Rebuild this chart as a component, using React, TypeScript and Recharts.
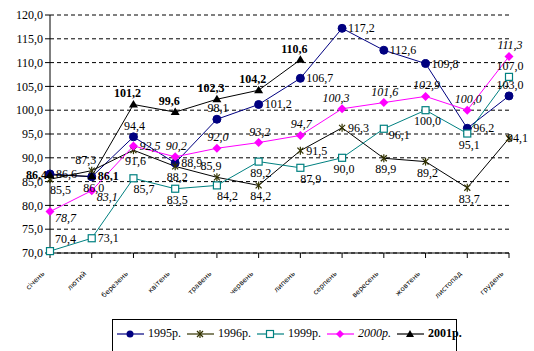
import { LineChart, Line, XAxis, YAxis, CartesianGrid, LabelList } from 'recharts';

const months = ['січень', 'лютий', 'березень', 'квітень', 'травень', 'червень', 'липень', 'серпень', 'вересень', 'жовтень', 'листопад', 'грудень'];
const y1995 = [86.6, 86.0, 94.4, 88.9, 98.1, 101.2, 106.7, 117.2, 112.6, 109.8, 96.2, 103.0];
const y1996 = [85.5, 87.3, 91.6, 88.2, 85.9, 84.2, 91.5, 96.3, 89.9, 89.2, 83.7, 94.1];
const y1999 = [70.4, 73.1, 85.7, 83.5, 84.2, 89.2, 87.9, 90.0, 96.1, 100.0, 95.1, 107.0];
const y2000 = [78.7, 83.1, 92.5, 90.2, 92.0, 93.2, 94.7, 100.3, 101.6, 102.9, 100.0, 111.3];
const y2001 = [86.4, 86.1, 101.2, 99.6, 102.3, 104.2, 110.6, null, null, null, null, null];
const yTicks = [70, 75, 80, 85, 90, 95, 100, 105, 110, 115, 120];

const data = months.map((m, i) => ({
  month: m,
  a: y1995[i],
  b: y1996[i],
  c: y1999[i],
  d: y2000[i],
  e: y2001[i],
}));

const FONT = '"Liberation Serif", "Times New Roman", serif';
const fmt = (v: number) => v.toFixed(1).replace('.', ',');

type Pos = 'r' | 'l' | 'a' | 'b' | 'bl' | 'rb' | 'al' | 'on';

function place(pos: Pos, x: number, y: number) {
  switch (pos) {
    case 'r': return { x: x + 6, y: y + 4, anchor: 'start' };
    case 'l': return { x: x - 3, y: y + 4, anchor: 'end' };
    case 'a': return { x: x + 1, y: y - 7, anchor: 'middle' };
    case 'al': return { x: x - 6, y: y - 7, anchor: 'middle' };
    case 'b': return { x: x + 2, y: y + 15, anchor: 'middle' };
    case 'bl': return { x: x, y: y + 15, anchor: 'start' };
    case 'rb': return { x: x + 5, y: y + 10, anchor: 'start' };
    case 'on': return { x: x - 2, y: y + 4, anchor: 'start' };
  }
}

const pos1995 = (i: number): Pos => (i === 1 ? 'b' : i === 2 || i === 4 || i === 11 ? 'a' : 'r');
const pos1996 = (i: number): Pos =>
  i === 1 || i === 4 ? 'al' : i === 6 || i === 7 ? 'r' : i === 11 ? 'on' : i === 0 ? 'bl' : 'b';
const pos1999 = (i: number): Pos =>
  i === 0 ? 'rb' : i === 1 ? 'r' : i === 8 ? 'rb' : i === 11 ? 'a' : i === 2 || i === 4 || i === 6 ? 'bl' : 'b';
const pos2000 = (i: number): Pos => (i === 0 || i === 1 ? 'rb' : i === 2 ? 'r' : i === 7 ? 'al' : 'a');
const pos2001 = (i: number): Pos => (i === 0 ? 'l' : i === 1 ? 'r' : 'al');

function makeLabel(posFn: (i: number) => Pos, style: { fontStyle?: string; fontWeight?: string }) {
  return (props: any) => {
    const { x, y, value, index } = props;
    if (value == null || x == null || y == null) return null;
    const p = place(posFn(index), Number(x), Number(y));
    if (index === 0 && posFn === pos1999) p.y = Number(y) - 8;
    return (
      <text
        x={p.x}
        y={p.y}
        textAnchor={p.anchor}
        fontFamily={FONT}
        fontSize={12}
        fontStyle={style.fontStyle}
        fontWeight={style.fontWeight}
        fill="#000"
      >
        {fmt(Number(value))}
      </text>
    );
  };
}

const circleDot = (props: any) => {
  const { cx, cy, index } = props;
  if (cx == null || cy == null) return <g key={index} />;
  return <circle key={index} cx={cx} cy={cy} r={4} fill="#000080" stroke="#000080" />;
};
const starDot = (props: any) => {
  const { cx, cy, index } = props;
  if (cx == null || cy == null) return <g key={index} />;
  const s = 3;
  return (
    <g key={index} stroke="#333300" strokeWidth={1.2}>
      <line x1={cx - s} y1={cy - s} x2={cx + s} y2={cy + s} />
      <line x1={cx - s} y1={cy + s} x2={cx + s} y2={cy - s} />
      <line x1={cx} y1={cy - s - 1} x2={cx} y2={cy + s + 1} />
    </g>
  );
};
const squareDot = (props: any) => {
  const { cx, cy, index } = props;
  if (cx == null || cy == null) return <g key={index} />;
  return <rect key={index} x={cx - 3.5} y={cy - 3.5} width={7} height={7} fill="#fff" stroke="#008080" strokeWidth={1.2} />;
};
const diamondDot = (props: any) => {
  const { cx, cy, index } = props;
  if (cx == null || cy == null) return <g key={index} />;
  return <path key={index} d={`M${cx},${cy - 4.5}L${cx + 4.5},${cy}L${cx},${cy + 4.5}L${cx - 4.5},${cy}Z`} fill="#FF00FF" />;
};
const triDot = (props: any) => {
  const { cx, cy, index } = props;
  if (cx == null || cy == null) return <g key={index} />;
  return <path key={index} d={`M${cx},${cy - 4.5}L${cx + 4.5},${cy + 3}L${cx - 4.5},${cy + 3}Z`} fill="#000" />;
};

const MonthTick = (props: any) => {
  const { x, y, payload } = props;
  return (
    <g transform={`translate(${x - 5},${y + 14})`}>
      <text textAnchor="end" transform="rotate(-45)" fontFamily='"DejaVu Sans", sans-serif' fontSize={7} fill="#000" stroke="none">
        {payload.value}
      </text>
    </g>
  );
};

const legendItems = [
  { name: '1995р.', color: '#000080', shape: 'circle', style: {} },
  { name: '1996р.', color: '#333300', shape: 'star', style: {} },
  { name: '1999р.', color: '#008080', shape: 'square', style: {} },
  { name: '2000р.', color: '#FF00FF', shape: 'diamond', style: { fontStyle: 'italic' } },
  { name: '2001р.', color: '#000000', shape: 'tri', style: { fontWeight: 'bold' } },
];

function LegendMarker({ shape, color }: { shape: string; color: string }) {
  const c = 13;
  const cy = 7;
  let m: any = null;
  if (shape === 'circle') m = <circle cx={c} cy={cy} r={3.5} fill={color} />;
  if (shape === 'star')
    m = (
      <g stroke={color} strokeWidth={1.2}>
        <line x1={c - 3} y1={cy - 3} x2={c + 3} y2={cy + 3} />
        <line x1={c - 3} y1={cy + 3} x2={c + 3} y2={cy - 3} />
        <line x1={c} y1={cy - 4} x2={c} y2={cy + 4} />
      </g>
    );
  if (shape === 'square') m = <rect x={c - 3.5} y={cy - 3.5} width={7} height={7} fill="#fff" stroke={color} strokeWidth={1.2} />;
  if (shape === 'diamond') m = <path d={`M${c},${cy - 4}L${c + 4},${cy}L${c},${cy + 4}L${c - 4},${cy}Z`} fill={color} />;
  if (shape === 'tri') m = <path d={`M${c},${cy - 4}L${c + 4},${cy + 3}L${c - 4},${cy + 3}Z`} fill={color} />;
  return (
    <svg width={27} height={14} style={{ display: 'block' }}>
      <line x1={0} y1={cy} x2={27} y2={cy} stroke={color} strokeWidth={1.2} />
      {m}
    </svg>
  );
}

export default function App() {
  return (
    <div style={{ position: 'absolute', left: 0, top: 0, width: 534, height: 351, overflow: 'hidden', background: '#fff' }}>
      <LineChart width={534} height={351} data={data} margin={{ top: 15, right: 25, left: 0, bottom: 60 }}>
        <CartesianGrid vertical={false} stroke="#000" strokeDasharray="4 3" />
        <XAxis
          dataKey="month"
          stroke="#000"
          tickLine={{ stroke: '#000' }}
          tickSize={5}
          tick={<MonthTick />}
          interval={0}
          height={38}
        />
        <YAxis
          domain={[70, 120]}
          ticks={yTicks}
          width={50}
          stroke="#000"
          tickSize={5}
          tickFormatter={(v: number) => fmt(v)}
          tick={{ fill: '#000', fontFamily: FONT, fontSize: 12 }}
          interval={0}
        />
        <Line dataKey="a" stroke="#000080" strokeWidth={1} dot={circleDot} isAnimationActive={false}>
          <LabelList dataKey="a" content={makeLabel(pos1995, {})} />
        </Line>
        <Line dataKey="b" stroke="#000000" strokeWidth={1} dot={starDot} isAnimationActive={false}>
          <LabelList dataKey="b" content={makeLabel(pos1996, {})} />
        </Line>
        <Line dataKey="c" stroke="#008080" strokeWidth={1} dot={squareDot} isAnimationActive={false}>
          <LabelList dataKey="c" content={makeLabel(pos1999, {})} />
        </Line>
        <Line dataKey="d" stroke="#FF00FF" strokeWidth={1} dot={diamondDot} isAnimationActive={false}>
          <LabelList dataKey="d" content={makeLabel(pos2000, { fontStyle: 'italic' })} />
        </Line>
        <Line dataKey="e" stroke="#000000" strokeWidth={1} dot={triDot} isAnimationActive={false}>
          <LabelList dataKey="e" content={makeLabel(pos2001, { fontWeight: 'bold' })} />
        </Line>
      </LineChart>
      <div
        style={{
          position: 'absolute',
          left: 112,
          top: 319,
          width: 345,
          height: 40,
          border: '1px solid #000',
          display: 'flex',
          alignItems: 'flex-start',
          paddingTop: 6,
          paddingLeft: 4,
          boxSizing: 'border-box',
          fontFamily: FONT,
          fontSize: 12,
          background: '#fff',
        }}
      >
        {legendItems.map((it) => (
          <div key={it.name} style={{ display: 'flex', alignItems: 'center', marginRight: 6 }}>
            <LegendMarker shape={it.shape} color={it.color} />
            <span style={{ marginLeft: 4, ...it.style }}>{it.name}</span>
          </div>
        ))}
      </div>
    </div>
  );
}
